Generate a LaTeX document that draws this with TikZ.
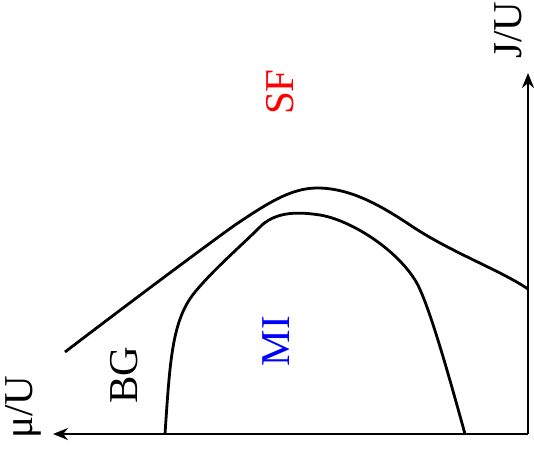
\documentclass[tikz,border=0pt]{standalone}
\usepackage{fontspec}
\setmainfont{Liberation Serif}
\usetikzlibrary{arrows.meta}
\begin{document}
\begin{tikzpicture}[
    x=0.5pt, y=-0.5pt,
    >={Stealth[length=7.5pt,width=6pt]},
    axis/.style={->, line width=1.4pt},
    phase/.style={line width=1.4pt},
    lbl/.style={rotate=90, font=\fontsize{20.5}{24}\selectfont, inner sep=0pt}
]
    \useasboundingbox (0,0) rectangle (534,459);

    % axes
    \coordinate (o) at (528,434);
    \coordinate (mu) at (53,434);
    \coordinate (j) at (528,73);
    \draw[axis] (o) -- (mu);
    \draw[axis] (o) -- (j);
    \node[lbl] (mulab) at (23,407) {μ/U};
    \node[lbl] (jlab) at (508,30) {J/U};

    % phase boundaries
    \draw[phase] (65,352) .. controls (120,310) and (200,250) .. (235,225)
        .. controls (265,205) and (290,188) .. (317,188)
        .. controls (350,188) and (380,205) .. (410,225)
        .. controls (450,252) and (500,270) .. (528,289);
    \draw[phase] (165,434) .. controls (170,360) and (172,320) .. (195,292)
        .. controls (215,268) and (240,247) .. (262,225)
        .. controls (278,211) and (300,212) .. (320,215)
        .. controls (350,220) and (395,248) .. (415,280)
        .. controls (428,300) and (450,380) .. (465,434);

    % phases
    \node[lbl, text=red] (sf) at (280,92) {SF};
    \node[lbl, text=blue] (mi) at (276,341) {MI};
    \node[lbl] (bg) at (124,375) {BG};
\end{tikzpicture}
\end{document}
